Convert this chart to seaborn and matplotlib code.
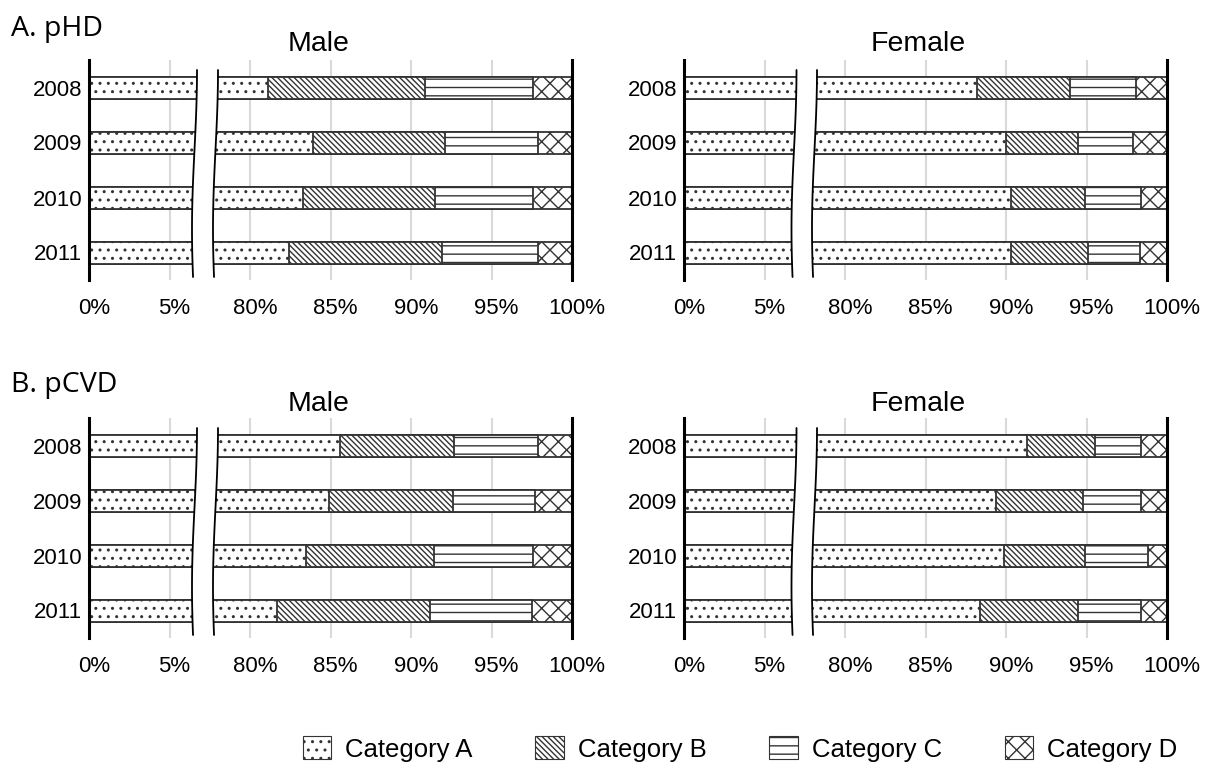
import numpy as np
import pandas as pd
import matplotlib
matplotlib.use("Agg")
import matplotlib.pyplot as plt
import seaborn as sns
from matplotlib.patches import Patch, Polygon
from matplotlib.lines import Line2D
from matplotlib.transforms import ScaledTranslation

# ---------------- data (percent of total) ----------------
years = ["2008", "2009", "2010", "2011"]
categories = ["Category A", "Category B", "Category C", "Category D"]

phd_male_a = [81.1, 83.9, 83.3, 82.4]
phd_male_b = [9.8, 8.2, 8.2, 9.5]
phd_male_c = [6.7, 5.8, 6.1, 6.0]
phd_male_d = [2.4, 2.1, 2.4, 2.1]

phd_female_a = [88.2, 90.0, 90.3, 90.3]
phd_female_b = [5.8, 4.5, 4.6, 4.8]
phd_female_c = [4.1, 3.4, 3.5, 3.2]
phd_female_d = [1.9, 2.1, 1.6, 1.7]

pcvd_male_a = [85.6, 84.9, 83.5, 81.7]
pcvd_male_b = [7.1, 7.7, 7.9, 9.5]
pcvd_male_c = [5.2, 5.1, 6.2, 6.3]
pcvd_male_d = [2.1, 2.3, 2.4, 2.5]

pcvd_female_a = [91.3, 89.4, 89.9, 88.4]
pcvd_female_b = [4.2, 5.4, 5.0, 6.1]
pcvd_female_c = [2.9, 3.6, 3.9, 3.9]
pcvd_female_d = [1.6, 1.6, 1.2, 1.6]

left_ticks = [0, 5]
left_ticklabels = ["0%", "5%"]
right_ticks = [80, 85, 90, 95, 100]
right_ticklabels = ["80%", "85%", "90%", "95%", "100%"]

section_labels = ["A. pHD", "B. pCVD"]
sex_labels = ["Male", "Female"]

# ---------------- style ----------------
W, H, DPI = 1208, 765, 100
sns.set_theme(style="white")
plt.rcParams["font.family"] = ["Liberation Sans", "DejaVu Sans"]
plt.rcParams["hatch.linewidth"] = 1.0
plt.rcParams["text.color"] = "black"
plt.rcParams["xtick.color"] = "black"
plt.rcParams["ytick.color"] = "black"

hatches = ["..", "\\\\\\\\\\\\", "--", "xx"]
EC = "#333333"
PX = 16.1          # pixels per percentage point
LEFT_W = 116       # pixel width of left (0..7%) part
RIGHT_X = 124      # pixel offset of right part start from 0% position
RIGHT_END = 483    # pixel offset of 100%

fig = plt.figure(figsize=(W / DPI, H / DPI), dpi=DPI)


def fx(px):
    return px / W


def fy(py):
    return 1 - py / H


def make_df(a, b, c, d):
    rows = []
    for i, y in enumerate(years):
        vals = [a[i], b[i], c[i], d[i]]
        cum = np.cumsum(vals)
        for cat, v, cu in zip(categories, vals, cum):
            rows.append({"year": y, "category": cat, "value": v, "cum": cu})
    return pd.DataFrame(rows)


panels = [
    (89, 60, make_df(phd_male_a, phd_male_b, phd_male_c, phd_male_d), 105.5, 126.5),
    (684, 60, make_df(phd_female_a, phd_female_b, phd_female_c, phd_female_d), 110.0, 130.5),
    (89, 418, make_df(pcvd_male_a, pcvd_male_b, pcvd_male_c, pcvd_male_d), 105.5, 126.5),
    (684, 418, make_df(pcvd_female_a, pcvd_female_b, pcvd_female_c, pcvd_female_d), 110.0, 130.5),
]

AX_H = 220
offset = ScaledTranslation(5 / DPI, 0, fig.dpi_scale_trans)

for x0, ytop, df, cl, cr in panels:
    axL = fig.add_axes([fx(x0), fy(ytop + AX_H), fx(LEFT_W), AX_H / H])
    axR = fig.add_axes([fx(x0 + RIGHT_X), fy(ytop + AX_H),
                        fx(RIGHT_END - RIGHT_X), AX_H / H])
    for ax in (axL, axR):
        for cat, hatch in zip(categories[::-1], hatches[::-1]):
            sub = df[df["category"] == cat]
            sns.barplot(data=sub, x="cum", y="year", order=years, orient="h",
                        width=0.4, color="white", saturation=1,
                        edgecolor=EC, linewidth=1.3, errorbar=None, ax=ax)
            for bar in ax.containers[-1]:
                bar.set_hatch(hatch)
        ax.set_ylim(3.5, -0.5)
        ax.set_xlabel("")
        ax.set_ylabel("")
        ax.set_axisbelow(True)
        ax.grid(axis="x", color="#d9d9d9", linewidth=1.5)
        ax.grid(axis="y", visible=False)
        for s in ax.spines.values():
            s.set_visible(False)
        ax.tick_params(axis="both", length=0, labelsize=16, colors="black")
        ax.tick_params(axis="x", pad=13)
        ax.tick_params(axis="y", pad=5)
        ax.set_facecolor("none")

    axL.set_xlim(0, LEFT_W / PX)
    axL.set_xticks(left_ticks)
    axL.set_xticklabels(left_ticklabels)
    axL.spines["left"].set_visible(True)
    axL.spines["left"].set_color("black")
    axL.spines["left"].set_linewidth(2.2)

    axR.set_xlim(100 - (RIGHT_END - RIGHT_X) / PX, 100)
    axR.set_xticks(right_ticks)
    axR.set_xticklabels(right_ticklabels)
    axR.tick_params(axis="y", labelleft=False)
    axR.spines["right"].set_visible(True)
    axR.spines["right"].set_color("black")
    axR.spines["right"].set_linewidth(2.2)

    for ax in (axL, axR):
        for lab in ax.get_xticklabels():
            lab.set_transform(lab.get_transform() + offset)

    # axis break: white gap with wavy edges
    t = np.linspace(0, 1, 80)
    ys = ytop + 10 + 207 * t
    wave = 2.5 * np.cos(1.3 * np.pi * t)
    xl = x0 + cl + wave
    xr = x0 + cr + wave
    poly_x = np.concatenate([xl, xr[::-1]])
    poly_y = np.concatenate([ys, ys[::-1]])
    mask = Polygon(np.column_stack([fx(poly_x), fy(poly_y)]), closed=True,
                   transform=fig.transFigure, facecolor="white",
                   edgecolor="none", zorder=5)
    fig.add_artist(mask)
    for xc in (xl, xr):
        fig.add_artist(Line2D(fx(xc), fy(ys), transform=fig.transFigure,
                              color="black", linewidth=1.3, zorder=6))

# ---------------- texts ----------------
fig.text(fx(11), fy(36), section_labels[0], fontsize=20.5, family=["Open Sans", "DejaVu Sans"],
         ha="left", va="baseline", color="black")
fig.text(fx(11), fy(392), section_labels[1], fontsize=20.5, family=["Open Sans", "DejaVu Sans"],
         ha="left", va="baseline", color="black")
for yb in (51, 411):
    fig.text(fx(319), fy(yb), sex_labels[0], fontsize=20.5, ha="center", va="baseline",
             color="black")
    fig.text(fx(918), fy(yb), sex_labels[1], fontsize=20.5, ha="center", va="baseline",
             color="black")

# ---------------- legend ----------------
handles = [Patch(facecolor="white", edgecolor=EC, hatch=h, linewidth=0.8, label=c)
           for c, h in zip(categories, hatches)]
leg = fig.legend(handles=handles, loc="center", bbox_to_anchor=(fx(740), fy(749)),
                 ncol=4, frameon=False, fontsize=18.5, handlelength=1.1, handleheight=1.0,
                 handletextpad=0.55, columnspacing=2.45, borderpad=0, borderaxespad=0)
for txt in leg.get_texts():
    txt.set_color("black")

fig.savefig("out.png", dpi=DPI, facecolor="white")
